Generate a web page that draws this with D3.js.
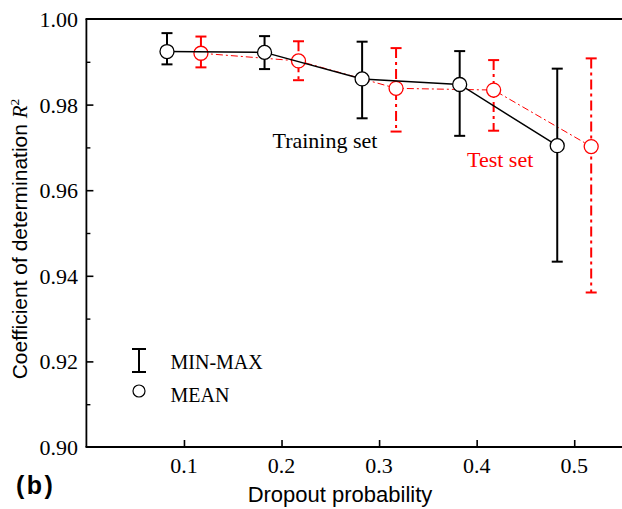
<!DOCTYPE html>
<html>
<head>
<meta charset="utf-8">
<script src="https://cdn.jsdelivr.net/npm/d3@7"></script>
<style>
  html, body { margin: 0; padding: 0; background: #fff; }
  svg { display: block; }
</style>
</head>
<body>
<svg id="chart" width="622" height="509"></svg>
<script>
// Dropout probability levels
const probabilities = [0.1, 0.2, 0.3, 0.4, 0.5];

// Training set R² statistics
const trainMean = [0.9924, 0.9922, 0.9860, 0.9847, 0.9704];
const trainMin  = [0.9894, 0.9883, 0.9768, 0.9727, 0.9433];
const trainMax  = [0.9967, 0.9960, 0.9947, 0.9925, 0.9884];

// Test set R² statistics
const testMean = [0.9920, 0.9902, 0.9838, 0.9834, 0.9702];
const testMin  = [0.9887, 0.9857, 0.9737, 0.9739, 0.9361];
const testMax  = [0.9959, 0.9948, 0.9932, 0.9904, 0.9908];

// Axis ticks
const xTicks = [0.1, 0.2, 0.3, 0.4, 0.5];
const yMajorTicks = [0.90, 0.92, 0.94, 0.96, 0.98, 1.00];
const yMinorTicks = [0.91, 0.93, 0.95, 0.97, 0.99];

const SERIF = "'Liberation Serif', 'Times New Roman', serif";
const SANS = "'Liberation Sans', Arial, sans-serif";

const svg = d3.select("#chart");

const x = d3.scaleLinear().domain([0, 0.55]).range([86.4, 623]);
const y = d3.scaleLinear().domain([0.90, 1.00]).range([447, 19]);

const offset = 0.0174;
const series = [
  { name: "test", mean: testMean, min: testMin, max: testMax, dx: offset,
    color: "#ff0000", lineWidth: 1, lineDash: "7,3,2,3", barWidth: 2, barDash: "10,4,3,4" },
  { name: "train", mean: trainMean, min: trainMin, max: trainMax, dx: -offset,
    color: "#000000", lineWidth: 1.5, lineDash: null, barWidth: 2, barDash: null }
];

// Frame: left, bottom, top
const frame = svg.append("g").attr("stroke", "#000").attr("stroke-width", 1.8).attr("fill", "none");
frame.append("line").attr("x1", x(0)).attr("x2", x(0)).attr("y1", y(1.0)).attr("y2", y(0.9));
frame.append("line").attr("x1", x(0) - 0.9).attr("x2", x(0.55)).attr("y1", y(0.9)).attr("y2", y(0.9));
frame.append("line").attr("x1", x(0) - 0.9).attr("x2", x(0.55)).attr("y1", y(1.0)).attr("y2", y(1.0));

// Inward ticks
const xAxis = d3.axisTop(x).tickValues(xTicks).tickSize(7).tickFormat("");
svg.append("g").attr("transform", `translate(0,${y(0.9)})`).call(xAxis)
  .call(g => g.select(".domain").remove())
  .call(g => g.selectAll("line").attr("stroke-width", 1.6));

const yAxisMajor = d3.axisRight(y).tickValues(yMajorTicks.filter(v => v > 0.9 && v < 1.0)).tickSize(7).tickFormat("");
svg.append("g").attr("transform", `translate(${x(0)},0)`).call(yAxisMajor)
  .call(g => g.select(".domain").remove())
  .call(g => g.selectAll("line").attr("stroke-width", 1.6));
const yAxisMinor = d3.axisRight(y).tickValues(yMinorTicks).tickSize(4).tickFormat("");
svg.append("g").attr("transform", `translate(${x(0)},0)`).call(yAxisMinor)
  .call(g => g.select(".domain").remove())
  .call(g => g.selectAll("line").attr("stroke-width", 1.4));

// Tick labels
svg.append("g").selectAll("text").data(yMajorTicks).join("text")
  .attr("x", 78).attr("y", d => y(d) + 8)
  .attr("text-anchor", "end")
  .attr("font-family", SERIF).attr("font-size", 22)
  .text(d => d3.format(".2f")(d));

svg.append("g").selectAll("text").data(xTicks).join("text")
  .attr("x", d => x(d)).attr("y", 473)
  .attr("text-anchor", "middle")
  .attr("font-family", SERIF).attr("font-size", 22)
  .text(d => d3.format(".1f")(d));

// Series: connecting lines, min-max bars, mean markers
series.forEach(s => {
  const g = svg.append("g").attr("class", s.name);
  const pts = probabilities.map((p, i) => ({ p: p + s.dx, mean: s.mean[i], lo: s.min[i], hi: s.max[i] }));

  const line = d3.line().x(d => x(d.p)).y(d => y(d.mean));
  g.append("path").datum(pts)
    .attr("d", line).attr("fill", "none")
    .attr("stroke", s.color).attr("stroke-width", s.lineWidth)
    .attr("stroke-dasharray", s.lineDash);

  const bars = g.append("g").attr("stroke", s.color).attr("stroke-width", s.barWidth).attr("fill", "none");
  bars.selectAll("line.stem").data(pts).join("line").attr("class", "stem")
    .attr("x1", d => x(d.p)).attr("x2", d => x(d.p))
    .attr("y1", d => y(d.hi)).attr("y2", d => y(d.lo))
    .attr("stroke-dasharray", s.barDash);
  bars.selectAll("line.capTop").data(pts).join("line").attr("class", "capTop")
    .attr("x1", d => x(d.p) - 5.5).attr("x2", d => x(d.p) + 5.5)
    .attr("y1", d => y(d.hi)).attr("y2", d => y(d.hi));
  bars.selectAll("line.capBot").data(pts).join("line").attr("class", "capBot")
    .attr("x1", d => x(d.p) - 5.5).attr("x2", d => x(d.p) + 5.5)
    .attr("y1", d => y(d.lo)).attr("y2", d => y(d.lo));

  g.selectAll("circle").data(pts).join("circle")
    .attr("cx", d => x(d.p)).attr("cy", d => y(d.mean)).attr("r", 7)
    .attr("fill", "#fff").attr("stroke", s.color).attr("stroke-width", 1.3);
});

// Series labels
svg.append("text").attr("x", 272.5).attr("y", 148)
  .attr("font-family", SERIF).attr("font-size", 22).attr("fill", "#000")
  .text("Training set");
svg.append("text").attr("x", 467).attr("y", 166.5)
  .attr("font-family", SERIF).attr("font-size", 22).attr("fill", "#ff0000")
  .text("Test set");

// Legend
const leg = svg.append("g");
leg.append("line").attr("x1", 139).attr("x2", 139).attr("y1", 349).attr("y2", 372)
  .attr("stroke", "#000").attr("stroke-width", 2);
leg.append("line").attr("x1", 132).attr("x2", 146).attr("y1", 349).attr("y2", 349)
  .attr("stroke", "#000").attr("stroke-width", 2);
leg.append("line").attr("x1", 132).attr("x2", 146).attr("y1", 372).attr("y2", 372)
  .attr("stroke", "#000").attr("stroke-width", 2);
leg.append("circle").attr("cx", 139).attr("cy", 391).attr("r", 6)
  .attr("fill", "#fff").attr("stroke", "#000").attr("stroke-width", 1.2);
leg.append("text").attr("x", 170.5).attr("y", 368.5)
  .attr("font-family", SERIF).attr("font-size", 20).text("MIN-MAX");
leg.append("text").attr("x", 170.5).attr("y", 401.5)
  .attr("font-family", SERIF).attr("font-size", 20).text("MEAN");

// Axis titles
svg.append("text").attr("x", 340).attr("y", 501.5)
  .attr("text-anchor", "middle")
  .attr("font-family", SANS).attr("font-size", 22)
  .text("Dropout probability");

const yTitle = svg.append("text")
  .attr("transform", "translate(27,239) rotate(-90)")
  .attr("text-anchor", "middle")
  .attr("font-family", SANS).attr("font-size", 21);
yTitle.append("tspan").text("Coefficient of determination ");
yTitle.append("tspan").attr("font-family", SERIF).attr("font-style", "italic").text("R");
yTitle.append("tspan").attr("font-family", SERIF).attr("font-size", 13.5).attr("dy", -8).text("2");

// Panel label
svg.append("text").attr("x", 16).attr("y", 494)
  .attr("font-family", SANS).attr("font-weight", "bold").attr("font-size", 25)
  .attr("letter-spacing", 2.5)
  .text("(b)");
</script>
</body>
</html>
